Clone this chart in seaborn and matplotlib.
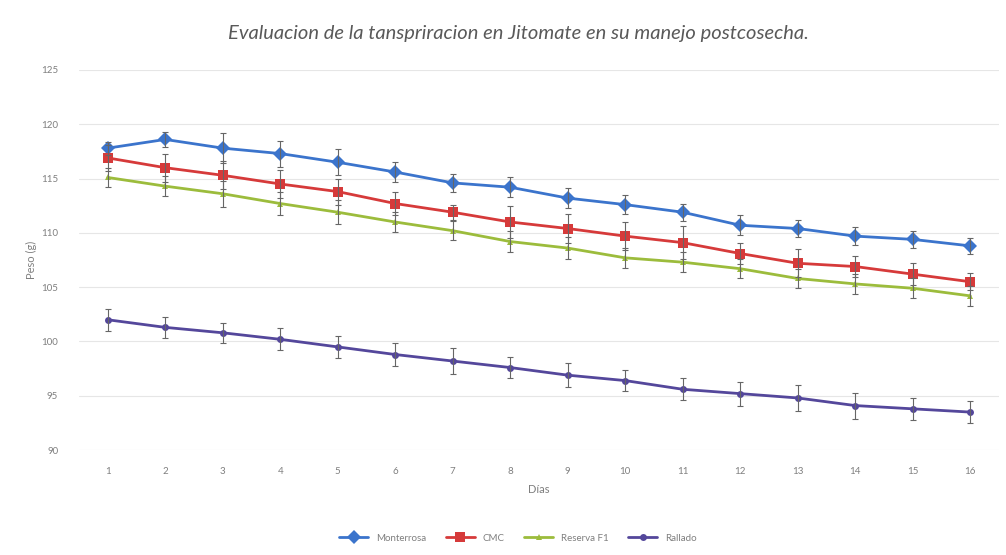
import numpy as np
import pandas as pd
import matplotlib
matplotlib.use("Agg")
import matplotlib.pyplot as plt
import seaborn as sns

sns.set_style("white")
plt.rcParams['font.family'] = ['Lato', 'DejaVu Sans']

dias = list(range(1, 17))
series_names = ["Monterrosa", "CMC", "Reserva F1", "Rallado"]

monterrosa = [117.8, 118.6, 117.8, 117.3, 116.5, 115.6, 114.6, 114.2, 113.2, 112.6, 111.9, 110.7, 110.4, 109.7, 109.4, 108.8]
cmc = [116.9, 116.0, 115.3, 114.5, 113.8, 112.7, 111.9, 111.0, 110.4, 109.7, 109.1, 108.1, 107.2, 106.9, 106.2, 105.5]
reserva = [115.1, 114.3, 113.6, 112.7, 111.9, 111.0, 110.2, 109.2, 108.6, 107.7, 107.3, 106.7, 105.8, 105.3, 104.9, 104.2]
rallado = [102.0, 101.3, 100.8, 100.2, 99.5, 98.8, 98.2, 97.6, 96.9, 96.4, 95.6, 95.2, 94.8, 94.1, 93.8, 93.5]

err_monterrosa = [0.6, 0.7, 1.4, 1.2, 1.2, 0.9, 0.8, 0.9, 0.9, 0.9, 0.8, 0.9, 0.8, 0.8, 0.8, 0.7]
err_cmc = [1.2, 1.3, 1.3, 1.3, 1.2, 1.1, 0.7, 1.5, 1.3, 1.3, 1.5, 1.0, 1.3, 1.0, 1.0, 0.8]
err_reserva = [0.9, 0.9, 1.2, 1.1, 1.1, 0.9, 0.9, 1.0, 1.0, 0.9, 0.9, 0.9, 0.9, 0.9, 0.9, 0.9]
err_rallado = [1.0, 1.0, 0.9, 1.0, 1.0, 1.1, 1.2, 1.0, 1.1, 1.0, 1.0, 1.1, 1.2, 1.2, 1.0, 1.0]

colors = ["#3b74cc", "#d63a3a", "#9cbc3c", "#54479b"]
markers = ["D", "s", "^", "o"]
sizes = [7, 7, 5, 5]

values = [monterrosa, cmc, reserva, rallado]
errors = [err_monterrosa, err_cmc, err_reserva, err_rallado]

df_list = []
for name, vals in zip(series_names, values):
    _df = pd.DataFrame({"dia": dias, "peso": vals})
    _df["serie"] = name
    df_list.append(_df)
df = pd.concat(df_list, axis=0, ignore_index=True)

fig = plt.figure(figsize=(10.06, 5.55), dpi=100)
ax = fig.add_axes([0.0785, 0.189, 0.9145, 0.685])

for name, vals, errs, c in zip(series_names, values, errors, colors):
    ax.errorbar(dias, vals, yerr=errs, fmt="none", ecolor="#666666",
                elinewidth=0.8, capsize=2.5, capthick=0.8, zorder=3)

sns.lineplot(data=df, x="dia", y="peso", hue="serie", style="serie",
             palette=colors, markers=markers, dashes=False, linewidth=2,
             markersize=7, markeredgewidth=0, ax=ax, legend=False, zorder=2)

# marker sizes per series
for line, s in zip(ax.get_lines()[-4:], sizes):
    line.set_markersize(s)

ax.set_xlim(0.5, 16.5)
ax.set_ylim(90, 125)
ax.set_xticks(dias)
ax.set_yticks(np.arange(90, 126, 5))
ax.tick_params(axis="both", labelsize=7, colors="#7f7f7f", length=0)
ax.tick_params(axis="x", pad=12)
ax.tick_params(axis="y", pad=15)
ax.yaxis.grid(True, color="#e6e6e6", linewidth=0.8)
ax.xaxis.grid(False)
for sp in ax.spines.values():
    sp.set_visible(False)

ax.set_xlabel("Días", fontsize=8, color="#7f7f7f", labelpad=6)
ax.set_ylabel("Peso (g)", fontsize=8, color="#7f7f7f", labelpad=3)

fig.text(0.515, 0.94, "Evaluacion de la tanspriracion en Jitomate en su manejo postcosecha.",
         ha="center", va="center", fontsize=14.5, style="italic", color="#595959")

handles = [plt.Line2D([], [], color=c, marker=m, markersize=s, linewidth=2, markeredgewidth=0)
           for c, m, s in zip(colors, markers, sizes)]
fig.legend(handles, series_names, loc="center", bbox_to_anchor=(0.515, 0.03), ncol=4,
           frameon=False, fontsize=7, labelcolor="#7f7f7f", handlelength=3, columnspacing=2)

fig.savefig("out.png", dpi=100)
